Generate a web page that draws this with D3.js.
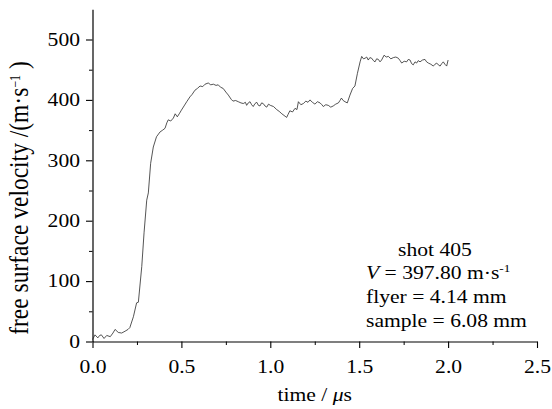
<!DOCTYPE html>
<html><head><meta charset="utf-8">
<script src="https://cdn.jsdelivr.net/npm/d3@7"></script>
<style>
html,body{margin:0;padding:0;background:#fff;}
svg text{font-family:"Liberation Serif","Times New Roman",serif !important;fill:#000;}
</style></head>
<body><svg id="chart" width="552" height="409"></svg>
<script>
const time = [0,0.014,0.03,0.04,0.05,0.065,0.08,0.1,0.115,0.127,0.145,0.164,0.183,0.2,0.21,0.23,0.248,0.258,0.277,0.29,0.305,0.314,0.327,0.342,0.36,0.38,0.395,0.408,0.418,0.426,0.44,0.455,0.465,0.477,0.49,0.5,0.515,0.53,0.548,0.56,0.576,0.59,0.605,0.62,0.633,0.651,0.665,0.68,0.695,0.707,0.72,0.735,0.75,0.764,0.78,0.79,0.805,0.82,0.835,0.848,0.86,0.867,0.876,0.886,0.895,0.904,0.914,0.924,0.933,0.942,0.951,0.96,0.97,0.98,0.99,1.0,1.018,1.036,1.05,1.065,1.083,1.092,1.1,1.11,1.125,1.139,1.15,1.158,1.172,1.186,1.2,1.212,1.223,1.237,1.251,1.265,1.28,1.29,1.298,1.312,1.326,1.34,1.354,1.368,1.383,1.392,1.4,1.41,1.42,1.433,1.448,1.463,1.476,1.49,1.505,1.514,1.524,1.533,1.542,1.551,1.56,1.57,1.58,1.589,1.598,1.608,1.617,1.626,1.64,1.652,1.664,1.678,1.692,1.706,1.72,1.73,1.739,1.753,1.767,1.776,1.786,1.795,1.804,1.814,1.823,1.832,1.842,1.856,1.87,1.879,1.889,1.903,1.917,1.926,1.936,1.945,1.955,1.964,1.973,1.982,1.992,2.0];
const velocity = [3,11,6,10,11,5,10,8,14,20,15,14,17,20,23,41,64,65,124,180,234,246,295,322,339,347,350,353,362,367,365,370,377,372,378,383,390,397,405,409,416,419,423,422,426,428,425,426,424,425,421,419,413,408,401,398,399,397,395,394,396,391,395,397,392,389,394,396,391,390,395,394,390,388,393,391,389,384,381,377,373,371,376,382,380,386,384,397,392,394,398,396,400,396,393,397,395,392,389,392,391,388,390,393,395,399,403,399,397,395,408,419,423,444,463,472,468,469,471,466,470,469,465,463,468,467,463,466,474,471,472,468,470,471,469,465,461,464,463,467,466,460,458,463,461,465,463,466,467,463,461,459,456,459,461,458,456,460,463,459,456,466];
const xTicks = [0,0.5,1.0,1.5,2.0,2.5];
const xMinorTicks = [0.25,0.75,1.25,1.75,2.25];
const yTicks = [0,100,200,300,400,500];
const yMinorTicks = [50,150,250,350,450];
const notes = ["shot  405","V","flyer = 4.14 mm","sample = 6.08 mm"];

const FONT = '"Liberation Serif","Times New Roman",serif';
const svg = d3.select("#chart");
const SX = 1.2;
const x = d3.scaleLinear().domain([0,2.5]).range([92.5,537]);
const y = d3.scaleLinear().domain([0,550]).range([341.5,9.3]);

function stretchTicks(g){
  g.attr("font-family", null);
  g.selectAll(".tick text").each(function(){
    const t = d3.select(this);
    const xv = +t.attr("x") || 0;
    t.attr("x", xv/SX).attr("transform", `scale(${SX},1)`)
     .style("font-family", FONT).style("font-size","18px");
  });
}

// minor ticks
svg.append("g").attr("transform","translate(0,341.5)")
  .call(d3.axisBottom(x).tickValues(xMinorTicks).tickSize(3.5).tickFormat(""))
  .call(g=>g.select(".domain").remove())
  .call(g=>g.selectAll("line").attr("stroke","#000").attr("stroke-width",1));
svg.append("g").attr("transform","translate(92.5,0)")
  .call(d3.axisLeft(y).tickValues(yMinorTicks).tickSize(3.5).tickFormat(""))
  .call(g=>g.select(".domain").remove())
  .call(g=>g.selectAll("line").attr("stroke","#000").attr("stroke-width",1));

const gx = svg.append("g").attr("transform","translate(0,341.5)")
  .call(d3.axisBottom(x).tickValues(xTicks).tickSize(6.5).tickSizeOuter(0).tickPadding(12).tickFormat(d3.format(".1f")));
gx.select(".domain").attr("stroke","#000").attr("stroke-width",1.2);
gx.selectAll("line").attr("stroke","#000").attr("stroke-width",1.1);
stretchTicks(gx);

const gy = svg.append("g").attr("transform","translate(92.5,0)")
  .call(d3.axisLeft(y).tickValues(yTicks).tickSize(6.5).tickSizeOuter(0).tickPadding(6).tickFormat(d3.format("d")));
gy.select(".domain").attr("stroke","#000").attr("stroke-width",1.2);
gy.selectAll("line").attr("stroke","#000").attr("stroke-width",1.1);
stretchTicks(gy);

// curve
const pts = time.map((t,i)=>[t,velocity[i]]);
svg.append("path").datum(pts)
  .attr("fill","none").attr("stroke","#2a2a2a").attr("stroke-width",0.8)
  .attr("d", d3.line().x(d=>x(d[0])).y(d=>y(d[1])));

// axis titles
svg.append("text").attr("transform",`translate(314.8,401) scale(${SX},1)`)
  .attr("text-anchor","middle").style("font-family",FONT).style("font-size","18px")
  .html('time / <tspan font-style="italic">μ</tspan>s');

const yt = svg.append("text").attr("transform",`translate(28,198) rotate(-90) scale(1,${SX})`)
  .attr("text-anchor","middle").style("font-family",FONT).style("font-size","18.5px")
  .html('free surface velocity /(m·s<tspan dy="-7" style="font-size:12px">−1</tspan><tspan dy="7"> )</tspan>');
const L = yt.node().getComputedTextLength();
if (L > 0) {
  const fs = 18.5 * 277 / L;
  yt.style("font-size", fs + "px");
}

// annotation
function note(tx, ty, html){
  svg.append("text").attr("transform",`translate(${tx},${ty}) scale(${SX},1)`)
    .style("font-family",FONT).style("font-size","18px").html(html);
}
note(398, 256, notes[0]);
note(366, 279, '<tspan font-style="italic">V</tspan> = 397.80 m·s<tspan dy="-7" style="font-size:11px">-1</tspan>');
note(366, 303, notes[2]);
note(366, 327, notes[3]);
</script></body></html>
